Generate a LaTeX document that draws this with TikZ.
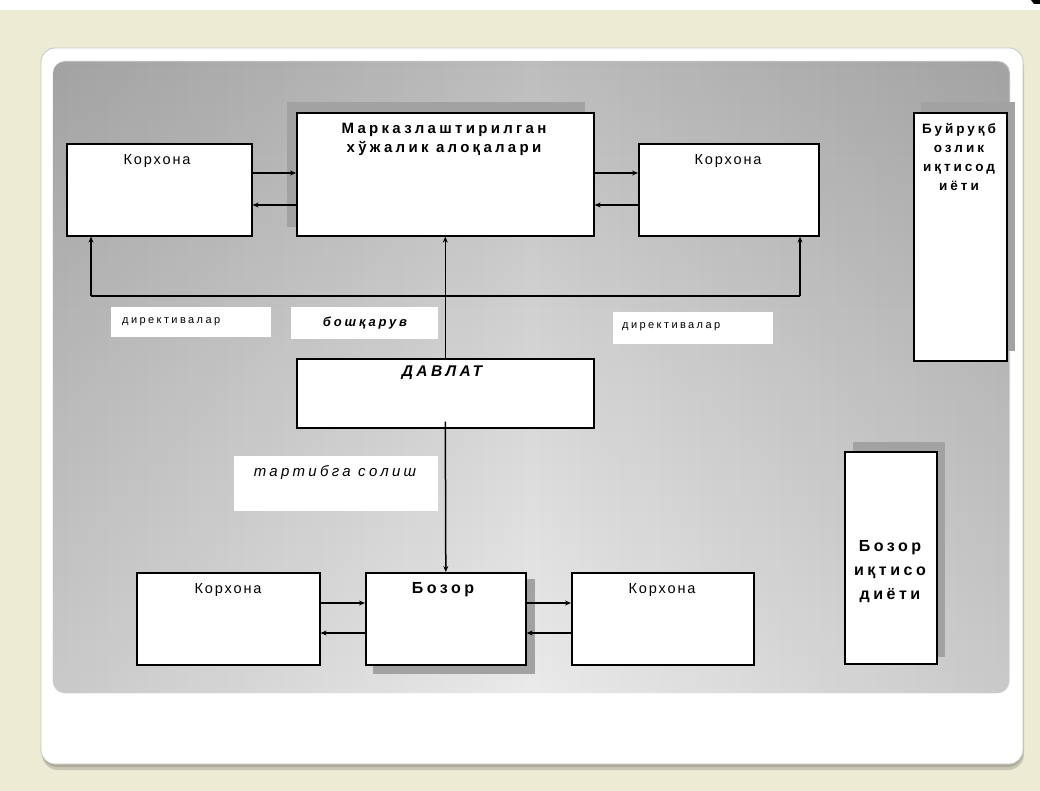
\documentclass[tikz,border=0pt]{standalone}
\usepackage{fontspec}
\setmainfont{Liberation Sans}
\newfontfamily\lsp[LetterSpace=22]{Liberation Sans}
\newfontfamily\lspk[LetterSpace=13]{Liberation Sans}
\usetikzlibrary{arrows.meta,fadings,calc}
\definecolor{cream}{HTML}{ECEBD3}
\definecolor{shadowgray}{HTML}{A2A2A2}
\definecolor{paneltop}{HTML}{BDBDBD}
\definecolor{panelmid}{HTML}{D6D6D6}
\definecolor{panelbot}{HTML}{EAEAEA}
\tikzfading[name=sideedges, left color=transparent!86, right color=transparent!86, middle color=transparent!100]
\tikzset{
  box/.style={draw=black, line width=1.6pt, fill=white, inner sep=0pt, anchor=north west},
  lbox/.style={fill=white, draw=none, inner sep=0pt, anchor=north west},
  txt/.style={inner sep=0pt, align=center, font=\lsp\fontsize{14}{16}\selectfont},
  ktxt/.style={inner sep=0pt, align=center, font=\lspk\fontsize{14.5}{16}\selectfont},
  conn/.style={line width=1.5pt, -{Stealth[length=6pt,width=5pt]}},
  plain/.style={line width=1.5pt},
  shadowbox/.style={fill=shadowgray}
}
\begin{document}
\begin{tikzpicture}[x=1pt,y=-1pt]
\useasboundingbox (0,0) rectangle (1040,791);
% page background
\fill[white] (0,0) rectangle (1040,10);
\fill[cream] (0,10) rectangle (1040,791);
\fill[black] (1031,0) -- (1040,0) -- (1040,4) -- (1034,4) -- cycle;
% card shadow
\fill[black!30!cream, opacity=0.5, rounded corners=16pt] (42,52) rectangle (1024,770);
\fill[black!35!cream, opacity=0.6, rounded corners=15pt] (42,51) rectangle (1023,767);
% card
\fill[white, draw=gray!45, line width=0.8pt, rounded corners=14pt] (41,48) rectangle (1023,764);
% grey panel
\shade[rounded corners=12pt, top color=paneltop, bottom color=panelbot, middle color=panelmid] (53,61) rectangle (1010,693);
\fill[black, path fading=sideedges, rounded corners=12pt] (53,61) rectangle (1010,693);

% shadows
\fill[shadowbox] (287,102) rectangle (585,227);
\fill[shadowbox] (921,102) rectangle (1015,351);
\fill[shadowbox] (373,579) rectangle (535,674);
\fill[shadowbox] (853,442) rectangle (945,657);

% boxes
\node[box, minimum width=185pt, minimum height=92pt] (k1) at (66,143) {};
\node[box, minimum width=297pt, minimum height=123pt] (cen) at (296,112) {};
\node[box, minimum width=180pt, minimum height=92pt] (k2) at (638,143) {};
\node[box, minimum width=93pt, minimum height=248pt] (buy) at (913,112) {};
\node[lbox, minimum width=160pt, minimum height=30pt] (dir1) at (111,307) {};
\node[lbox, minimum width=147pt, minimum height=32pt] (bosh) at (291,307) {};
\node[lbox, minimum width=160pt, minimum height=32pt] (dir2) at (613,312) {};
\node[box, minimum width=297pt, minimum height=69pt] (dav) at (296,358) {};
\node[lbox, minimum width=204pt, minimum height=55pt] (tart) at (234,456) {};
\node[box, minimum width=183pt, minimum height=92pt] (k3) at (136,572) {};
\node[box, minimum width=160pt, minimum height=92pt] (boz) at (365,572) {};
\node[box, minimum width=182pt, minimum height=92pt] (k4) at (571,572) {};
\node[box, minimum width=92pt, minimum height=212pt] (bozi) at (844,451) {};

% texts
\node[ktxt] (k1t) at (157,161) {Корхона};
\node[txt, font=\lsp\bfseries\fontsize{15}{19}\selectfont] (cent) at (444,139) {Марказлаштирилган\\хўжалик алоқалари};
\node[ktxt] (k2t) at (728,161) {Корхона};
\node[txt, font=\lsp\bfseries\fontsize{13.5}{19}\selectfont] (buyt) at (959,157) {Буйруқб\\озлик\\иқтисод\\иёти};
\node[txt, anchor=west, font=\lsp\fontsize{11}{13}\selectfont] (dir1t) at (122,322) {директивалар};
\node[txt, font=\lsp\bfseries\itshape\fontsize{13}{15}\selectfont] (bosht) at (365,323) {бошқарув};
\node[txt, anchor=west, font=\lsp\fontsize{11}{13}\selectfont] (dir2t) at (622,327) {директивалар};
\node[txt, font=\lsp\bfseries\itshape\fontsize{15.5}{17}\selectfont] (davt) at (442,373) {ДАВЛАТ};
\node[txt, font=\lsp\itshape\fontsize{15}{17}\selectfont] (tartt) at (335,473) {тартибга солиш};
\node[ktxt] (k3t) at (228,590) {Корхона};
\node[txt, font=\lsp\bfseries\fontsize{16}{17}\selectfont] (bozt) at (443,590) {Бозор};
\node[ktxt] (k4t) at (662,590) {Корхона};
\node[txt, font=\lsp\bfseries\fontsize{16}{24}\selectfont] (bozit) at (890,572) {Бозор\\иқтисо\\диёти};

% connectors top row
\draw[conn] (k1.east |- 0,173) -- (cen.west |- 0,173);
\draw[conn] (cen.west |- 0,205) -- (k1.east |- 0,205);
\draw[conn] (cen.east |- 0,173) -- (k2.west |- 0,173);
\draw[conn] (k2.west |- 0,205) -- (cen.east |- 0,205);
% directives
\coordinate (hl) at (91,296);
\coordinate (hr) at (800,296);
\draw[plain] (hl) -- (hr);
\draw[conn] (hl) -- (hl |- k1.south);
\draw[conn] (hr) -- (hr |- k2.south);
\draw[conn] (dav.north) -- (cen.south);
\draw[conn] ([yshift=7pt]dav.south) -- (boz.north);
% bottom row
\draw[conn] (k3.east |- 0,603) -- (boz.west |- 0,603);
\draw[conn] (boz.west |- 0,633) -- (k3.east |- 0,633);
\draw[conn] (boz.east |- 0,603) -- (k4.west |- 0,603);
\draw[conn] (k4.west |- 0,633) -- (boz.east |- 0,633);
\end{tikzpicture}
\end{document}
